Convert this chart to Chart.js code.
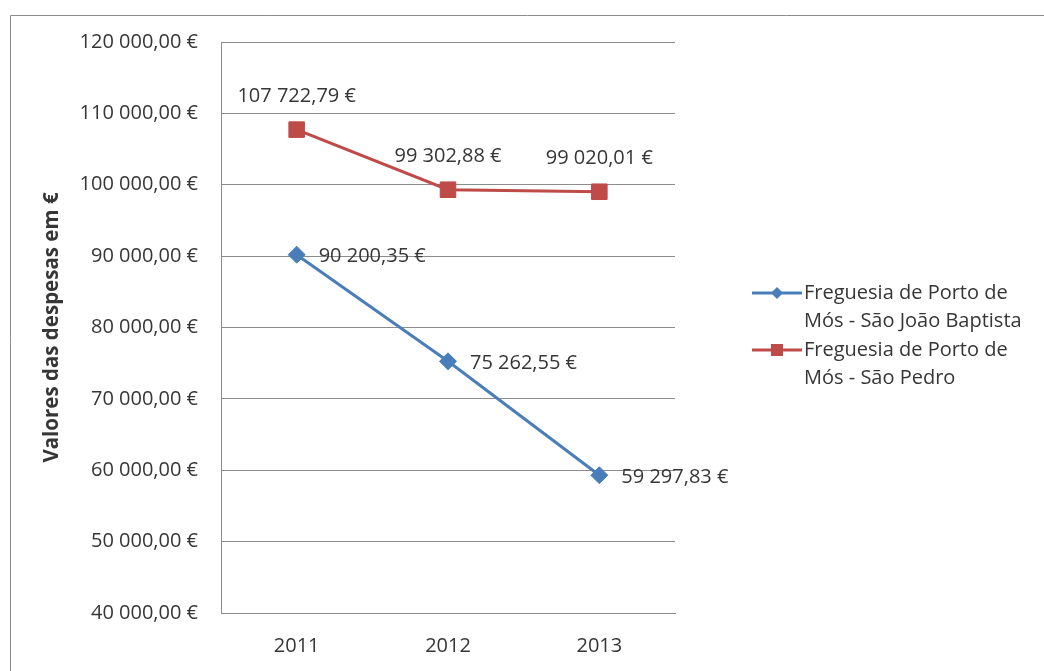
<!DOCTYPE html>
<html>
<head>
<meta charset="utf-8">
<script src="https://cdn.jsdelivr.net/npm/chart.js@4/dist/chart.umd.min.js"></script>
<style>
  html, body { margin: 0; padding: 0; background: #fff; }
  #wrap { width: 1044px; height: 671px; position: relative; }
</style>
</head>
<body>
<div id="wrap"><canvas id="despesasChart"></canvas></div>
<script>
// Chart data
var years = ['2011', '2012', '2013'];
var saoJoaoBaptista = [90200.35, 75262.55, 59297.83];
var saoPedro = [107722.79, 99302.88, 99020.01];
var seriesNames = [
    ['Freguesia de Porto de', 'Mós - São João Baptista'],
    ['Freguesia de Porto de', 'Mós - São Pedro']
];
var yMin = 40000, yMax = 120000, yStep = 10000;
var yTitle = 'Valores das despesas em €';

var blue = '#4A7EBB';
var red = '#BE4B48';
var textColor = '#363636';
var axisColor = '#8c8c8c';
var font = 'Open Sans';

// 120000 -> "120 000,00 €"
function euro(v) {
    var parts = Number(v).toFixed(2).split('.');
    parts[0] = parts[0].replace(/\B(?=(\d{3})+(?!\d))/g, ' ');
    return parts[0] + ',' + parts[1] + ' €';
}

// Outer frame like the Excel chart area
var framePlugin = {
    id: 'frame',
    beforeDraw: function(chart) {
        var c = chart.ctx;
        c.save();
        c.strokeStyle = axisColor;
        c.lineWidth = 1;
        c.beginPath();
        c.moveTo(10.5, chart.height + 5);
        c.lineTo(10.5, 15.5);
        c.lineTo(chart.width + 5, 15.5);
        c.stroke();
        c.restore();
    }
};

// Value labels next to the points
var valueLabels = {
    id: 'valueLabels',
    afterDatasetsDraw: function(chart) {
        var c = chart.ctx;
        c.save();
        c.font = '20px "' + font + '"';
        c.fillStyle = textColor;
        chart.data.datasets.forEach(function(ds, i) {
            var meta = chart.getDatasetMeta(i);
            meta.data.forEach(function(pt, j) {
                var txt = euro(ds.data[j]);
                if (ds.labelPos === 'right') {
                    c.textAlign = 'left';
                    c.textBaseline = 'middle';
                    c.fillText(txt, pt.x + 22, pt.y + 2);
                } else {
                    c.textAlign = 'center';
                    c.textBaseline = 'middle';
                    c.fillText(txt, pt.x, pt.y - 33);
                }
            });
        });
        c.restore();
    }
};

// Legend on the right, with wrapped names
var sideLegend = {
    id: 'sideLegend',
    afterDraw: function(chart) {
        var c = chart.ctx;
        var x0 = 752, x1 = 802, rowH = 28.5, y = 293;
        c.save();
        c.font = '20px "' + font + '"';
        c.textAlign = 'left';
        c.textBaseline = 'middle';
        chart.data.datasets.forEach(function(ds, i) {
            c.strokeStyle = ds.borderColor;
            c.lineWidth = 3;
            c.beginPath();
            c.moveTo(x0, y);
            c.lineTo(x1, y);
            c.stroke();
            c.fillStyle = ds.borderColor;
            var mx = (x0 + x1) / 2;
            c.beginPath();
            if (ds.pointStyle === 'rect') {
                c.rect(mx - 6, y - 6, 12, 12);
            } else {
                c.moveTo(mx, y - 6);
                c.lineTo(mx + 6, y);
                c.lineTo(mx, y + 6);
                c.lineTo(mx - 6, y);
                c.closePath();
            }
            c.fill();
            c.fillStyle = textColor;
            seriesNames[i].forEach(function(line) {
                c.fillText(line, x1 + 2, y);
                y += rowH;
            });
        });
        c.restore();
    }
};

var ctx = document.getElementById('despesasChart').getContext('2d');
var myChart = new Chart(ctx, {
    type: 'line',
    data: {
        labels: years,
        datasets: [{
            label: seriesNames[0].join(' '),
            data: saoJoaoBaptista,
            borderColor: blue,
            backgroundColor: blue,
            borderWidth: 3,
            pointStyle: 'rectRot',
            pointRadius: 8.5,
            pointBorderWidth: 1,
            labelPos: 'right'
        }, {
            label: seriesNames[1].join(' '),
            data: saoPedro,
            borderColor: red,
            backgroundColor: red,
            borderWidth: 3,
            pointStyle: 'rect',
            pointRadius: 11,
            pointBorderWidth: 1,
            labelPos: 'top'
        }]
    },
    options: {
        responsive: true,
        maintainAspectRatio: false,
        animation: false,
        layout: { padding: { top: 42, right: 369, bottom: 0, left: 0 } },
        plugins: {
            legend: { display: false },
            tooltip: { enabled: false }
        },
        scales: {
            x: {
                offset: true,
                grid: { display: false, drawTicks: false },
                border: { display: true, color: axisColor, width: 1 },
                ticks: {
                    color: textColor,
                    font: { family: font, size: 20 },
                    padding: 21
                },
                afterFit: function(s) { s.height = 58; }
            },
            y: {
                min: yMin,
                max: yMax,
                grid: { color: axisColor, drawTicks: false },
                border: { display: true, color: axisColor, width: 1 },
                ticks: {
                    stepSize: yStep,
                    color: textColor,
                    font: { family: font, size: 20 },
                    padding: 23,
                    callback: function(v) { return euro(v); }
                },
                title: {
                    display: true,
                    text: yTitle,
                    color: textColor,
                    font: { family: font, size: 20.5, weight: 'bold' },
                    padding: { top: 40, bottom: 0 }
                },
                afterFit: function(s) { s.width = 221; }
            }
        }
    },
    plugins: [framePlugin, valueLabels, sideLegend]
});
</script>
</body>
</html>
